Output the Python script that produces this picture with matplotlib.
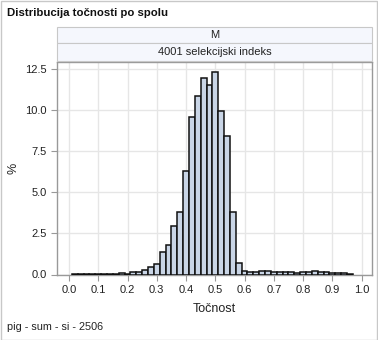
import matplotlib
matplotlib.use("Agg")
import matplotlib.pyplot as plt
from matplotlib.patches import Rectangle
import numpy as np

plt.rcParams['font.family'] = ['Liberation Sans', 'DejaVu Sans']

# bin centres (width 0.02) and percent of animals in each bin
bin_centres = np.round(np.arange(0.02, 0.97, 0.02), 2)
percent = [
    0.01, 0.02, 0.03, 0.04, 0.05, 0.06, 0.06, 0.06, 0.10, 0.05,   # 0.02 - 0.20
    0.15, 0.15, 0.28, 0.47, 0.65, 1.36, 1.80, 2.96, 3.81, 6.32,   # 0.22 - 0.40
    9.58, 10.88, 11.95, 11.55, 12.30, 9.93, 8.45, 3.80, 0.71, 0.22,  # 0.42 - 0.60
    0.18, 0.16, 0.22, 0.22, 0.18, 0.16, 0.16, 0.16, 0.08, 0.16,   # 0.62 - 0.80
    0.16, 0.22, 0.18, 0.16, 0.10, 0.10, 0.08, 0.05,               # 0.82 - 0.96
]
bin_width = 0.02

title = "Distribucija točnosti po spolu"
panel_rows = ["M", "4001 selekcijski indeks"]
footnote = "pig - sum - si - 2506"
x_ticks = np.round(np.arange(0, 1.01, 0.1), 1)
y_ticks = [0, 2.5, 5.0, 7.5, 10.0, 12.5]

W, H = 378, 340
fig = plt.figure(figsize=(W / 100, H / 100), dpi=100)

ax_l, ax_r, ax_t, ax_b = 57.3, 371.5, 61.7, 274.5
ax = fig.add_axes([ax_l / W, 1 - ax_b / H, (ax_r - ax_l) / W, (ax_b - ax_t) / H])

ax.bar(bin_centres, percent, width=bin_width, color='#c9d5e6',
       edgecolor='#111111', linewidth=1.1, zorder=3)

ax.set_xlim(-0.04, 1.034)
ax.set_ylim(0, 12.95)
ax.set_xticks(x_ticks)
ax.set_xticklabels([f"{v:.1f}" for v in x_ticks])
ax.set_yticks(y_ticks)
ax.set_yticklabels([f"{v:.1f}" for v in y_ticks])
ax.grid(True, color='#e6e6e6', linewidth=1.0, zorder=0)
ax.tick_params(length=4.5, width=0.8, color='#999999', labelsize=8,
               labelcolor='#222222', pad=3)
for s in ax.spines.values():
    s.set_color('#999999')
    s.set_linewidth(1.0)

ax.set_xlabel("Točnost", fontsize=9, color='#222222', labelpad=6)
ax.set_ylabel("%", fontsize=9, color='#222222', labelpad=4)

# panel header cells above the plot
cells = [(26.7, 43.0), (43.3, 61.0)]
for (top, bot), txt in zip(cells, panel_rows):
    fig.add_artist(Rectangle((ax_l / W, 1 - bot / H), (ax_r - ax_l) / W,
                             (bot - top) / H, transform=fig.transFigure,
                             facecolor='#f5f7fd', edgecolor='#c8c8c8',
                             linewidth=0.8))
    fig.text((ax_l + ax_r) / 2 / W, 1 - (top + bot) / 2 / H, txt,
             ha='center', va='center', fontsize=8, color='#222222')

fig.text(7 / W, 1 - 12.5 / H, title, ha='left', va='center',
         fontsize=8.2, fontweight='bold', color='#111111')
fig.text(7 / W, 1 - 327 / H, footnote, ha='left', va='center',
         fontsize=7.8, color='#222222')

# thin frame around the whole graph
fig.add_artist(Rectangle((0.5 / W, 0.5 / H), (W - 1.5) / W, (H - 1.5) / H,
                         transform=fig.transFigure, fill=False,
                         edgecolor='#c8c8c8', linewidth=1.0))

fig.savefig("out.png", dpi=100)
